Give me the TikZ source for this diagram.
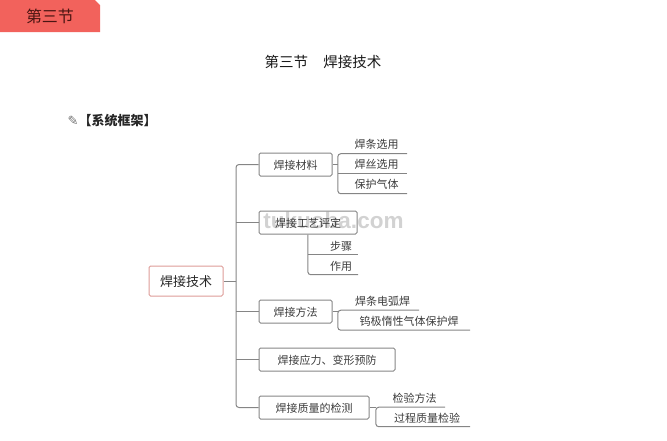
\documentclass[tikz,border=0pt]{standalone}
\usepackage{xcolor}
\usepackage{fontspec}
\setmainfont{Noto Sans CJK SC}
\newfontfamily\symbolfont{DejaVu Sans}
\newfontfamily\markfont{Liberation Sans}
\usetikzlibrary{positioning, calc}
\definecolor{tabred}{HTML}{F2625C}
\definecolor{tabtext}{HTML}{4A1512}
\definecolor{linegray}{HTML}{858585}
\definecolor{rootedge}{HTML}{DE9C98}
\definecolor{textgray}{HTML}{3C3C3C}
\definecolor{markgray}{HTML}{D2D2D2}
\newcommand{\fsize}[1]{\fontsize{#1}{#1}\selectfont}

\begin{document}
\begin{tikzpicture}[
    x=1pt, y=-1pt,
    topicbox/.style={rectangle, rounded corners=1.5pt, draw=linegray, line width=1pt,
                     minimum width=#1, minimum height=23pt, inner sep=0pt, font=\fsize{11},
                     text=textgray, text height=10pt, text depth=0pt},
    rootbox/.style={rectangle, rounded corners=1.5pt, draw=rootedge, line width=1pt, fill=white,
                    minimum width=74pt, minimum height=30pt, inner sep=0pt, font=\fsize{13},
                    text=black!85, text height=11pt, text depth=0pt},
    leaf/.style={rectangle, minimum width=#1, minimum height=20pt, inner sep=0pt, font=\fsize{11},
                 text=textgray, text height=10pt, text depth=0pt},
    lowleaf/.style={leaf=#1, text height=12pt},
    link/.style={draw=linegray, line width=1pt, rounded corners=3pt},
]
\useasboundingbox (0,0) rectangle (667,440);

% Section tab
\fill[tabred] (0,0) -- (95,0) -- (100,5) -- (100,32) -- (0,32) -- cycle;
\node[font=\fsize{16}, text=tabtext] (tab) at (50,16.5) {第三节};

% Headings
\node[font=\fsize{14.5}, text=black!90] (title) at (323,62) {第三节\hspace{1.05em}焊接技术};
\node[font=\symbolfont\fsize{13}, text=black!55] (pencil) at (73,120.5) {✎};
\node[font=\fsize{13}, text=black!85, inner sep=0pt] (frame) at (117.5,121) {\textbf{【系统框架】}};

% Watermark
\node[font=\markfont\bfseries\fsize{22.5}, text=markgray] (mark) at (333.5,220.5) {tukuoba.com};

% Root and topics
\node[rootbox] (root) at (186,281) {焊接技术};
\node[topicbox=73pt] (material) at (295.5,164.5) {焊接材料};
\node[topicbox=98pt] (process) at (308,222.5) {焊接工艺评定};
\node[topicbox=73pt] (method) at (295.5,311.5) {焊接方法};
\node[topicbox=136pt] (stress) at (327,359.5) {焊接应力、变形预防};
\node[topicbox=110pt] (quality) at (314,407.5) {焊接质量的检测};

% Leaves
\node[leaf=69pt] (rod) at (372.5,143.5) {\hspace{8pt}焊条选用};
\node[leaf=69pt] (wire) at (372.5,163.5) {\hspace{8pt}焊丝选用};
\node[leaf=69pt] (gas) at (372.5,183.5) {\hspace{8pt}保护气体};
\node[lowleaf=50pt] (steps) at (333,244.5) {\hspace{16pt}步骤};
\node[lowleaf=50pt] (usage) at (333,264.5) {\hspace{16pt}作用};
\node[leaf=81pt] (arc) at (378.5,300) {\hspace{8pt}焊条电弧焊};
\node[leaf=132pt] (tig) at (404,320) {\hspace{10pt}钨极惰性气体保护焊};
\node[leaf=69pt] (inspect) at (410.5,397) {\hspace{8pt}检验方法};
\node[lowleaf=94pt] (control) at (423,416.5) {\hspace{8pt}过程质量检验};

% Trunk
\draw[link] (root.east) -- (236,281);
\draw[link] (material.west) -| (236,281);
\draw[link] (quality.west) -| (236,281);
\draw[link] (236,223 |- process.west) -- (process.west);
\draw[link] (236,223 |- method.west) -- (method.west);
\draw[link] (236,223 |- stress.west) -- (stress.west);

% Branches
\draw[link] (material.east) -- (rod.south west |- material.east);
\draw[link] (rod.south east) -- (rod.south west) -- (gas.south west) -- (gas.south east);
\draw[link] (wire.south west) -- (wire.south east);
\draw[link] (steps.south west |- process.south) -- (usage.south west) -- (usage.south east);
\draw[link] (steps.south west) -- (steps.south east);
\draw[link] (method.east) -- (arc.south west |- method.east);
\draw[link] (arc.south east) -- (arc.south west) -- (tig.south west) -- (tig.south east);
\draw[link] (quality.east) -- (inspect.south west |- quality.east);
\draw[link] (inspect.south east) -- (inspect.south west) -- (control.south west) -- (control.south east);
\end{tikzpicture}
\end{document}
